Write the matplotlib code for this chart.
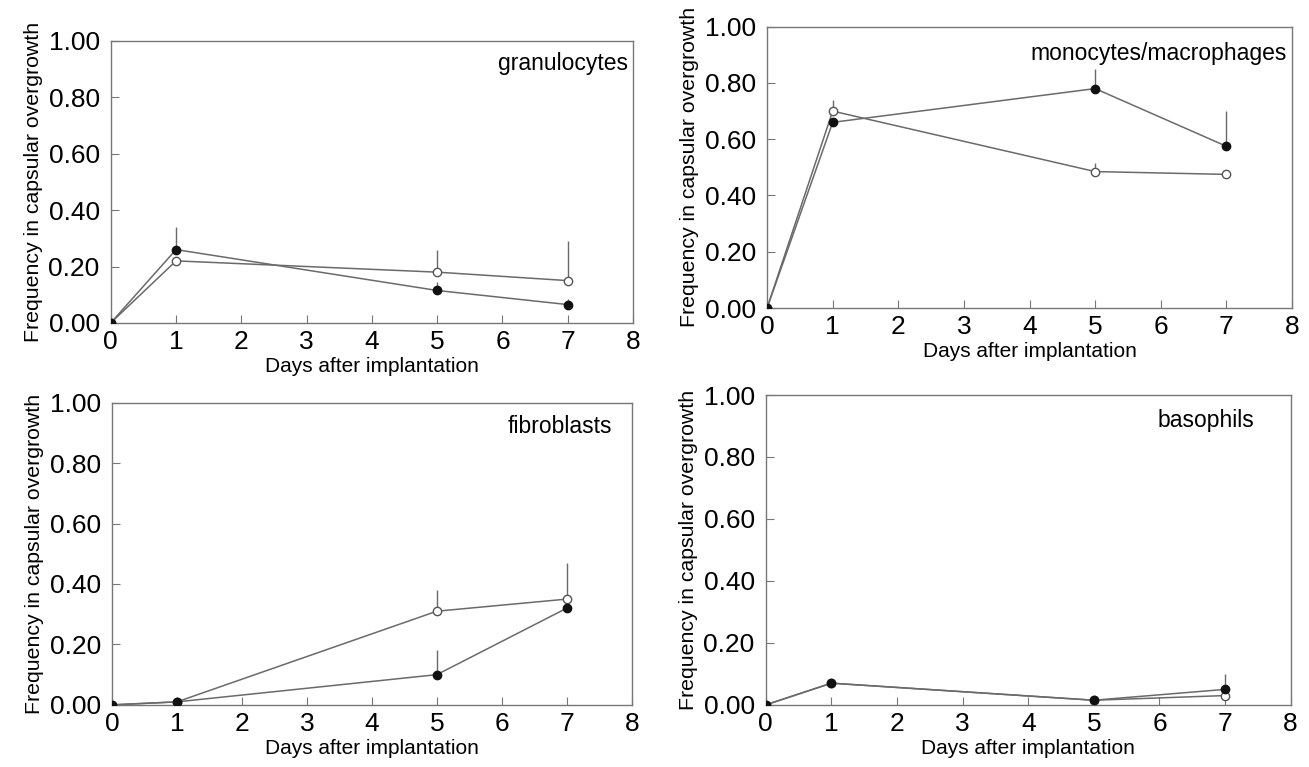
import matplotlib as mpl
mpl.use('Agg')
import matplotlib.pyplot as plt

plt.rcParams['font.family'] = ['Liberation Sans', 'DejaVu Sans']

days = [0, 1, 5, 7]

# granulocytes
gran_filled = [0.0, 0.26, 0.115, 0.065]
gran_filled_err = [0.0, 0.08, 0.03, 0.02]
gran_open = [0.0, 0.22, 0.18, 0.15]
gran_open_err = [0.0, 0.0, 0.08, 0.14]

# monocytes/macrophages
mono_filled = [0.0, 0.66, 0.78, 0.575]
mono_filled_err = [0.0, 0.0, 0.07, 0.125]
mono_open = [0.0, 0.70, 0.485, 0.475]
mono_open_err = [0.0, 0.04, 0.03, 0.0]

# fibroblasts
fibro_filled = [0.0, 0.01, 0.10, 0.32]
fibro_filled_err = [0.0, 0.01, 0.08, 0.0]
fibro_open = [0.0, 0.01, 0.31, 0.35]
fibro_open_err = [0.0, 0.0, 0.07, 0.12]

# basophils
baso_filled = [0.0, 0.07, 0.015, 0.05]
baso_filled_err = [0.0, 0.01, 0.0, 0.05]
baso_open = [0.0, 0.07, 0.015, 0.03]
baso_open_err = [0.0, 0.0, 0.0, 0.0]

panels = [
    ('granulocytes', gran_filled, gran_filled_err, gran_open, gran_open_err,
     [0.0846, 0.579, 0.399, 0.3676], (0.99, 0.92)),
    ('monocytes/macrophages', mono_filled, mono_filled_err, mono_open, mono_open_err,
     [0.586, 0.5984, 0.401, 0.3668], (0.99, 0.905)),
    ('fibroblasts', fibro_filled, fibro_filled_err, fibro_open, fibro_open_err,
     [0.0856, 0.081, 0.397, 0.394], (0.962, 0.922)),
    ('basophils', baso_filled, baso_filled_err, baso_open, baso_open_err,
     [0.585, 0.081, 0.401, 0.404], (0.93, 0.917)),
]

line_col = '#6a6a6a'

fig = plt.figure(figsize=(13.09, 7.67), dpi=100)

for name, yf, ef, yo, eo, rect, tpos in panels:
    ax = fig.add_axes(rect)
    # upward error bars only
    ax.vlines(days, yo, [y + e for y, e in zip(yo, eo)], color=line_col, lw=1.0, zorder=1)
    ax.vlines(days, yf, [y + e for y, e in zip(yf, ef)], color=line_col, lw=1.0, zorder=1)
    ax.plot(days, yo, '-o', color=line_col, lw=1.1, ms=6,
            mfc='white', mec='#555555', mew=1.0, zorder=2)
    ax.plot(days, yf, '-o', color=line_col, lw=1.1, ms=6,
            mfc='#111111', mec='#111111', zorder=3)

    ax.set_xlim(0, 8)
    ax.set_ylim(0, 1.0)
    ax.set_xticks(range(9))
    ax.set_yticks([0, 0.2, 0.4, 0.6, 0.8, 1.0])
    ax.set_yticklabels(['0.00', '0.20', '0.40', '0.60', '0.80', '1.00'])
    ax.tick_params(direction='in', length=6, width=0.8, color='#777777',
                   labelsize=19)
    ax.tick_params(axis='y', pad=8)
    ax.tick_params(axis='x', pad=5)
    for sp in ax.spines.values():
        sp.set_color('#777777')
        sp.set_linewidth(1.0)
    ax.set_xlabel('Days after implantation', fontsize=15, labelpad=2)
    ax.set_ylabel('Frequency in capsular overgrowth', fontsize=15.3, labelpad=4)
    ax.text(tpos[0], tpos[1], name, transform=ax.transAxes, ha='right', va='center',
            fontsize=16.5)

plt.savefig('out.png', dpi=100)
